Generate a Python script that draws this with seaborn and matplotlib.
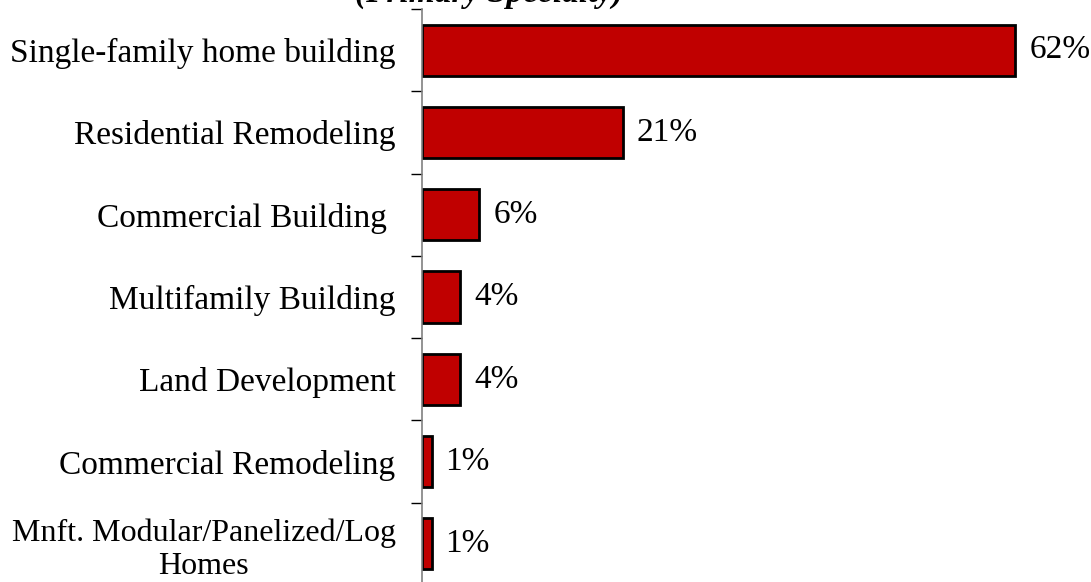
import matplotlib
matplotlib.use("Agg")
import matplotlib.pyplot as plt
import seaborn as sns
import pandas as pd
from matplotlib.ticker import FixedLocator

categories = [
    "Single-family home building",
    "Residential Remodeling",
    "Commercial Building ",
    "Multifamily Building",
    "Land Development",
    "Commercial Remodeling",
    "Mnft. Modular/Panelized/Log\nHomes",
]
values = [62, 21, 6, 4, 4, 1, 1]
title_text = "(Primary Specialty)"

sns.set_theme(style="white")
plt.rcParams["font.family"] = ["Liberation Serif", "DejaVu Serif"]
plt.rcParams["text.color"] = "black"

df = pd.DataFrame({"cat": categories, "val": values})

fig = plt.figure(figsize=(10.91, 5.82), dpi=100)
ax = fig.add_axes([422 / 1091, -3 / 582, 670 / 1091, 576 / 582])

sns.barplot(data=df, y="cat", x="val", orient="h", color="#C00000",
            edgecolor="black", linewidth=2, width=0.62, saturation=1, ax=ax)

ax.set_xlim(0, 70)
ax.set_ylim(6.5, -0.5)
ax.set_xlabel("")
ax.set_ylabel("")
ax.set_xticks([])

for s in ["top", "right", "bottom"]:
    ax.spines[s].set_visible(False)
ax.spines["left"].set_color("#808080")
ax.spines["left"].set_linewidth(1.2)

ax.tick_params(axis="y", which="major", length=0, pad=19, labelsize=24,
               labelcolor="black")
labels = ax.get_yticklabels()
for lbl in labels:
    lbl.set_multialignment("center")
labels[-1].set_fontsize(23)
ax.yaxis.set_minor_locator(FixedLocator([i - 0.5 for i in range(len(categories) + 1)]))
ax.tick_params(axis="y", which="minor", length=8, width=1, color="black", left=True)

for c in ax.containers:
    ax.bar_label(c, labels=[f"{v}%" for v in values], padding=10, fontsize=24,
                 color="black")

fig.text(355 / 1091, 1 - 2 / 582, title_text, ha="left", va="baseline",
         fontsize=24, fontweight="bold", fontstyle="italic", color="black")

fig.savefig("out.png", dpi=100)
